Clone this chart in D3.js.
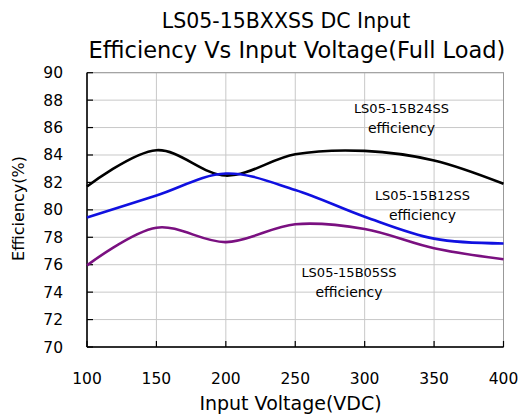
<!DOCTYPE html>
<html lang="en">
<head>
  <meta charset="utf-8">
  <title>LS05-15BXXSS DC Input Efficiency</title>
  <script src="https://d3js.org/d3.v7.min.js"></script>
</head>
<style>
body { margin: 0; background: white; }
text { font-family: "DejaVu Sans", sans-serif; fill: black; }
.grid line { stroke: #c8c8c8; stroke-width: 1; }
.frame { fill: none; stroke: #999; stroke-width: 1; }
.axis-line { stroke: black; stroke-width: 1.5; }
.tick-mark { stroke: black; stroke-width: 1.2; }
.curve { fill: none; stroke-width: 2.6; }
</style>
<body>
  <div class="chart"></div>
  <script type="text/javascript">
  // input voltages (VDC)
  var voltages = [100, 150, 200, 250, 300, 350, 400];
  // efficiency (%) per model
  var eff24 = [81.7, 84.35, 82.5, 84.05, 84.3, 83.6, 81.9];
  var eff12 = [79.45, 81.05, 82.65, 81.45, 79.5, 77.9, 77.55];
  var eff05 = [75.95, 78.7, 77.65, 78.95, 78.6, 77.2, 76.4];
  var seriesNames = ["LS05-15B24SS", "LS05-15B12SS", "LS05-15B05SS"];
  var seriesColors = ["#000000", "#1010e0", "#7a1080"];
  var xTicks = [100, 150, 200, 250, 300, 350, 400];
  var yTicks = [70, 72, 74, 76, 78, 80, 82, 84, 86, 88, 90];

  var width = 518, height = 417;
  var plot = {left: 87, right: 503.5, top: 72.7, bottom: 347};

  var svg = d3.select(".chart").append("svg")
    .attr("width", width)
    .attr("height", height);

  var x = d3.scaleLinear().domain([100, 400]).range([plot.left, plot.right]);
  var y = d3.scaleLinear().domain([70, 90]).range([plot.bottom, plot.top]);

  // grid
  var grid = svg.append("g").attr("class", "grid");
  grid.selectAll(".h").data(yTicks).enter().append("line")
    .attr("x1", plot.left).attr("x2", plot.right)
    .attr("y1", function(d){ return y(d); })
    .attr("y2", function(d){ return y(d); });
  grid.selectAll(".v").data(xTicks).enter().append("line")
    .attr("y1", plot.top).attr("y2", plot.bottom)
    .attr("x1", function(d){ return x(d); })
    .attr("x2", function(d){ return x(d); });

  svg.append("rect").attr("class", "frame")
    .attr("x", plot.left).attr("y", plot.top)
    .attr("width", plot.right - plot.left)
    .attr("height", plot.bottom - plot.top);

  // axes (ticks point inward)
  svg.append("line").attr("class", "axis-line")
    .attr("x1", plot.left).attr("x2", plot.left)
    .attr("y1", plot.top).attr("y2", plot.bottom);
  svg.append("line").attr("class", "axis-line")
    .attr("x1", plot.left).attr("x2", plot.right)
    .attr("y1", plot.bottom).attr("y2", plot.bottom);

  svg.selectAll(".ytick").data(yTicks).enter().append("line")
    .attr("class", "tick-mark")
    .attr("x1", plot.left).attr("x2", plot.left + 6)
    .attr("y1", function(d){ return y(d); })
    .attr("y2", function(d){ return y(d); });
  svg.selectAll(".xtick").data(xTicks).enter().append("line")
    .attr("class", "tick-mark")
    .attr("y1", plot.bottom).attr("y2", plot.bottom - 6)
    .attr("x1", function(d){ return x(d); })
    .attr("x2", function(d){ return x(d); });

  svg.selectAll(".ylabel").data(yTicks).enter().append("text")
    .attr("x", 63)
    .attr("y", function(d){ return y(d) + 5.5; })
    .attr("text-anchor", "end")
    .style("font-size", "15.5px")
    .text(function(d){ return d; });
  svg.selectAll(".xlabel").data(xTicks).enter().append("text")
    .attr("x", function(d){ return x(d); })
    .attr("y", 383.5)
    .attr("text-anchor", "middle")
    .style("font-size", "15.5px")
    .text(function(d){ return d; });

  // curves
  var line = d3.line()
    .x(function(d){ return x(d[0]); })
    .y(function(d){ return y(d[1]); })
    .curve(d3.curveCatmullRom.alpha(0.5));

  [eff24, eff12, eff05].forEach(function(vals, i){
    svg.append("path")
      .attr("class", "curve")
      .attr("stroke", seriesColors[i])
      .attr("d", line(voltages.map(function(v, j){ return [v, vals[j]]; })));
  });

  // series labels
  var labelPos = [[401.5, 113.3], [422.5, 200], [349, 277.3]];
  seriesNames.forEach(function(name, i){
    var t = svg.append("text")
      .attr("text-anchor", "middle")
      .style("font-size", "13px");
    t.append("tspan").attr("x", labelPos[i][0]).attr("y", labelPos[i][1]).text(name);
    t.append("tspan").attr("x", labelPos[i][0]).attr("y", labelPos[i][1] + 19.5)
      .style("font-size", "14px").text("efficiency");
  });

  // titles
  svg.append("text").attr("x", 286).attr("y", 28.3)
    .attr("text-anchor", "middle").style("font-size", "20.5px")
    .text("LS05-15BXXSS DC Input");
  svg.append("text").attr("x", 297).attr("y", 58.3)
    .attr("text-anchor", "middle").style("font-size", "22.5px")
    .text("Efficiency Vs Input Voltage(Full Load)");
  svg.append("text").attr("x", 290.5).attr("y", 410)
    .attr("text-anchor", "middle").style("font-size", "19px")
    .text("Input Voltage(VDC)");
  svg.append("text")
    .attr("transform", "translate(24,208.5) rotate(-90)")
    .attr("text-anchor", "middle").style("font-size", "16px")
    .text("Efficiency(%)");
  </script>
</body>
</html>
